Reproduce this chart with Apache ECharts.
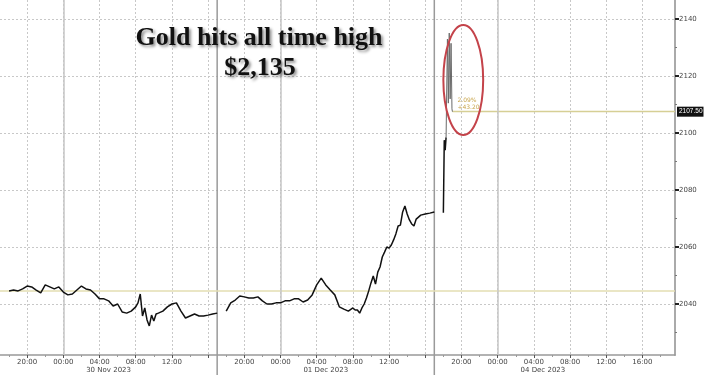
<!DOCTYPE html>
<html><head><meta charset="utf-8">
<script src="https://cdn.jsdelivr.net/npm/echarts@6/dist/echarts.min.js"></script>
<style>html,body{margin:0;padding:0;background:#fff}#c{width:708px;height:375px}</style>
</head><body><div id="c"></div>
<script>
// Session hours: 0 = 30 Nov 2023 00:00 (weekend removed)
const seg1Hours = [-6,-5.5,-5,-4.5,-4,-3.5,-3,-2.5,-2,-1.5,-1,-0.5,0,0.5,1,1.5,2,2.5,3,3.5,4,4.5,5,5.5,6,6.5,7,7.5,8,8.25,8.5,8.75,9,9.25,9.5,9.75,10,10.25,10.5,11,11.5,12,12.5,13,13.5,14,14.5,15,15.5,16,16.5,17];
const seg1Prices = [2044.6,2044.9,2044.6,2045.3,2046.3,2046.0,2044.9,2043.9,2046.7,2046.0,2045.3,2046.0,2044.2,2043.2,2043.5,2044.9,2046.3,2045.3,2044.9,2043.5,2041.8,2041.8,2041.1,2039.3,2040.0,2037.2,2036.8,2037.5,2039.0,2040.4,2043.5,2035.8,2038.6,2034.4,2032.3,2036.1,2034.0,2036.5,2036.8,2037.5,2039.0,2040.0,2040.4,2037.5,2035.1,2035.8,2036.5,2035.8,2035.8,2036.1,2036.5,2036.8];
const seg2Hours = [18,18.5,19,19.5,20,20.5,21,21.5,22,22.5,23,23.5,24,24.5,25,25.5,26,26.5,27,27.5,28,28.5,29,29.5,30,30.5,31,31.5,32,32.25,32.5,32.75,33,33.25,33.5,33.75,34,34.25,34.5,34.75,35,35.25,35.5,35.75,36,36.25,36.5,36.75,37,37.25,37.5,37.75,38,38.25,38.5,38.75,39,39.5,40,40.5,41];
const seg2Prices = [2037.5,2040.4,2041.4,2042.8,2042.5,2042.1,2042.1,2042.5,2041.1,2040.0,2040.0,2040.4,2040.4,2041.1,2041.1,2041.8,2041.8,2040.7,2041.4,2043.2,2046.7,2049.1,2046.7,2044.9,2043.2,2039.0,2038.2,2037.5,2038.6,2037.9,2037.9,2036.8,2038.6,2040.0,2042.1,2044.6,2047.4,2049.8,2047.0,2051.2,2053.0,2056.5,2058.2,2060.0,2059.6,2060.7,2062.5,2064.6,2067.4,2067.7,2072.3,2074.4,2071.6,2069.5,2068.1,2067.4,2069.8,2071.2,2071.6,2071.9,2072.3];
const seg3Hours = [42,42.1,42.2,42.3];
const seg3Prices = [2072.0,2097.5,2094.0,2098.5];
const spikeHours = [42.3,42.45,42.55,42.65,42.75,42.85,42.95,43];
const spikePrices = [2098.5,2133.0,2110.5,2135.1,2112.0,2131.5,2108.5,2107.5];

const timeTickHours = [-4,0,4,8,12,20,24,28,32,36,44,48,52,56,60,64];
const timeTickLabels = ['20:00','00:00','04:00','08:00','12:00','20:00','00:00','04:00','08:00','12:00','20:00','00:00','04:00','08:00','12:00','16:00'];
const gridHours = [-4,0,4,8,12,16,20,24,28,32,36,40,44,48,52,56,60,64];
const dateHours = [5,29,53];
const dateLabels = ['30 Nov 2023','01 Dec 2023','04 Dec 2023'];
const minorHours = [-6,-2,2,6,10,14,18,22,26,30,34,38,42,46,50,54,58,62,66];
const midnightHours = [0,24,48];
const sessionBreakHours = [17,41];
const priceTicks = [2040,2060,2080,2100,2120,2140];
const priceMinorTicks = [2030,2050,2070,2090,2110,2130];
const refLevel = 2044.5;
const lastPrice = 2107.5;
const lastLabel = '2107.50';
const changeTexts = ['2.09%','+43.20'];
const titleLines = ['Gold hits all time high','$2,135'];
const ellipseCenter = [44.2, 2118.6];
const ellipseRadius = [2.2, 19.3];

const X_MIN = -7, X_MAX = 67.6, Y_MIN = 2022.1, Y_MAX = 2146.7;

const lineData = [];
seg1Hours.forEach((h,i)=>lineData.push([h, seg1Prices[i]]));
lineData.push([17.5, null]);
seg2Hours.forEach((h,i)=>lineData.push([h, seg2Prices[i]]));
lineData.push([41.5, null]);
seg3Hours.forEach((h,i)=>lineData.push([h, seg3Prices[i]]));
const spikeData = spikeHours.map((h,i)=>[h, spikePrices[i]]);

const chart = echarts.init(document.getElementById('c'), null, {renderer:'canvas'});
const axisFont = {fontSize:7, color:'#444', fontFamily:'"DejaVu Sans", sans-serif'};
const olive = {color:'#d6cf95', width:1.3, type:'solid'};

const markData = [
  {yAxis: refLevel, lineStyle:{color:'#e3deb2', width:1.5, type:'solid'}, label:{show:false}},
  [{coord:[spikeHours[spikeHours.length-1], lastPrice], lineStyle:olive,
    label:{show:true, position:'end', formatter:lastLabel, color:'#fff', backgroundColor:'#111', fontSize:6.5, padding:[2,1,1,2], distance:2, fontFamily:'"Liberation Sans", sans-serif'}},
   {coord:[X_MAX, lastPrice], lineStyle:olive}]
];
midnightHours.forEach(h=>markData.push({xAxis:h, lineStyle:{color:'#c6c6c6', width:1.5, type:'solid'}, label:{show:false}}));

chart.setOption({
  animation:false,
  backgroundColor:'#fff',
  grid:{left:0, right:33, top:0, bottom:20, containLabel:false, outerBoundsMode:'none'},
  xAxis:[
    {type:'value', min:X_MIN, max:X_MAX, position:'bottom',
     axisLine:{show:true, onZero:false, lineStyle:{color:'#999', width:1.5}},
     axisTick:{show:true, customValues:gridHours, length:3, lineStyle:{color:'#555'}},
     axisLabel:Object.assign({customValues:timeTickHours, margin:4, formatter:v=>timeTickLabels[timeTickHours.indexOf(v)]||''}, axisFont),
     splitLine:{show:true, lineStyle:{color:'#c8c8c8', type:[2,2], width:1}}},
    {type:'value', min:X_MIN, max:X_MAX, position:'bottom',
     axisLine:{show:false, onZero:false},
     axisTick:{show:true, customValues:minorHours, length:2, lineStyle:{color:'#999'}},
     axisLabel:Object.assign({customValues:dateHours, margin:12, formatter:v=>dateLabels[dateHours.indexOf(v)]||''}, axisFont),
     splitLine:{show:false}}
  ],
  yAxis:[
    {type:'value', min:Y_MIN, max:Y_MAX, position:'right',
     axisLine:{show:true, onZero:false, lineStyle:{color:'#aaa', width:2}},
     axisTick:{show:true, customValues:priceTicks, length:4, lineStyle:{color:'#222', width:2}},
     axisLabel:Object.assign({customValues:priceTicks, margin:4, formatter:v=>String(v)}, axisFont),
     splitLine:{show:true, lineStyle:{color:'#c8c8c8', type:[2,2], width:1}}},
    {type:'value', min:Y_MIN, max:Y_MAX, position:'right',
     axisLine:{show:false, onZero:false},
     axisTick:{show:true, customValues:priceMinorTicks, length:2, lineStyle:{color:'#777'}},
     axisLabel:{show:false}, splitLine:{show:false}}
  ],
  series:[{
    type:'line', xAxisIndex:0, yAxisIndex:0, data:lineData, showSymbol:false, symbol:'none',
    connectNulls:false, lineStyle:{color:'#111', width:1.5}, z:5,
    markLine:{silent:true, symbol:'none', animation:false, lineStyle:olive, data:markData}
  },{
    type:'line', xAxisIndex:0, yAxisIndex:0, data:spikeData, showSymbol:false, symbol:'none',
    lineStyle:{color:'#6a6a6a', width:1}, z:5
  }]
});

function px(p){ return chart.convertToPixel({seriesIndex:0}, p); }
const g = [];
sessionBreakHours.forEach(h=>{
  const x = px([h, Y_MIN])[0];
  g.push({type:'line', shape:{x1:x, y1:0, x2:x, y2:375}, style:{stroke:'#9a9a9a', lineWidth:1.5}, z:3});
});
const c = px(ellipseCenter);
const e = px([ellipseCenter[0]+ellipseRadius[0], ellipseCenter[1]+ellipseRadius[1]]);
g.push({type:'ellipse', shape:{cx:c[0], cy:c[1], rx:e[0]-c[0], ry:c[1]-e[1]}, style:{fill:'none', stroke:'#c4434a', lineWidth:2}, z:20});
const lp = px([spikeHours[spikeHours.length-1], lastPrice]);
g.push({type:'text', style:{text:changeTexts[0], x:lp[0]+5, y:lp[1]-14, fill:'#c9a64e', font:'6px "DejaVu Sans"'}, z:20});
g.push({type:'text', style:{text:changeTexts[1], x:lp[0]+5, y:lp[1]-7, fill:'#c9a64e', font:'6px "DejaVu Sans"'}, z:20});
const titleStyle = {fill:'#111', font:'bold 26px "Liberation Serif", serif', textAlign:'center', textVerticalAlign:'middle',
  textShadowColor:'rgba(0,0,0,0.45)', textShadowBlur:3, textShadowOffsetX:2, textShadowOffsetY:2};
g.push({type:'text', style:Object.assign({text:titleLines[0], x:259, y:38}, titleStyle), z:30});
g.push({type:'text', style:Object.assign({text:titleLines[1], x:260, y:68}, titleStyle), z:30});
chart.setOption({graphic:g});
</script>
</body></html>
